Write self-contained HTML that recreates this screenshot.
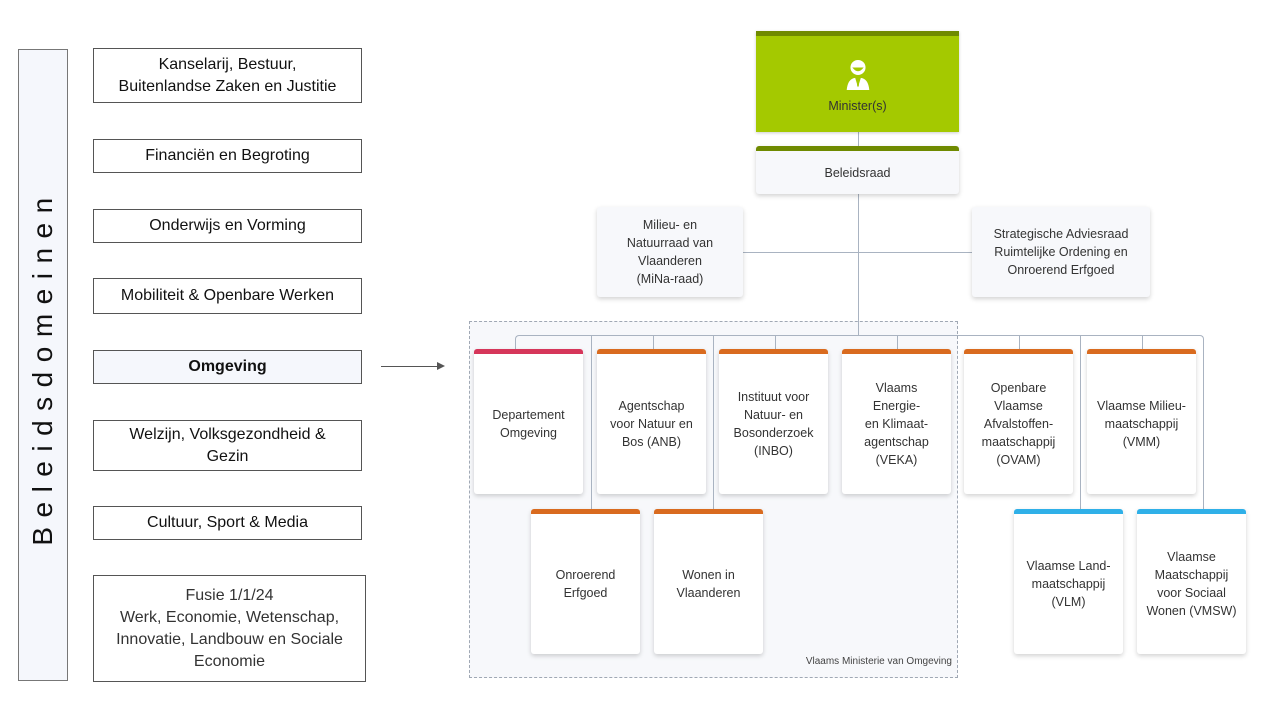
<!DOCTYPE html>
<html><head><meta charset="utf-8"><style>
*{margin:0;padding:0;box-sizing:border-box}
body{width:1280px;height:720px;background:#fff;position:relative;overflow:hidden;font-family:"Liberation Sans",sans-serif}
.a{position:absolute}
.lb{position:absolute;left:93px;width:269px;border:1.3px solid #555;background:#fff;display:flex;align-items:center;justify-content:center;text-align:center;font-size:16px;color:#111;line-height:22px}
.c{position:absolute;background:#fff;border-radius:3px;box-shadow:0 2px 5px rgba(0,0,0,.18);display:flex;align-items:center;justify-content:center;text-align:center;font-size:12.5px;color:#333;line-height:18px;border-top:5px solid #d96b1f;padding:0 4px}
.l{position:absolute;background:#a9b3c1}
</style></head><body>
<div class="a" style="left:18px;top:49px;width:50px;height:632px;background:#f5f7fc;border:1.3px solid #777"></div>
<div class="a" style="left:43px;top:367px;transform:translate(-50%,-50%) rotate(-90deg);font-size:28px;letter-spacing:9.5px;white-space:nowrap;color:#111">Beleidsdomeinen</div>

<div class="lb" style="top:48px;height:55px">Kanselarij, Bestuur,<br>Buitenlandse Zaken en Justitie</div>
<div class="lb" style="top:139px;height:34px">Financiën en Begroting</div>
<div class="lb" style="top:209px;height:34px">Onderwijs en Vorming</div>
<div class="lb" style="top:278px;height:36px">Mobiliteit &amp; Openbare Werken</div>
<div class="lb" style="top:350px;height:34px;background:#f5f7fc;font-weight:bold">Omgeving</div>
<div class="lb" style="top:420px;height:51px">Welzijn, Volksgezondheid &amp;<br>Gezin</div>
<div class="lb" style="top:506px;height:34px">Cultuur, Sport &amp; Media</div>
<div class="lb" style="top:575px;height:107px;width:273px;color:#333">Fusie 1/1/24<br>Werk, Economie, Wetenschap,<br>Innovatie, Landbouw en Sociale<br>Economie</div>

<div class="a" style="left:381px;top:366px;width:58px;height:1px;background:#555"></div>
<div class="a" style="left:437px;top:362px;width:0;height:0;border-left:8px solid #555;border-top:4px solid transparent;border-bottom:4px solid transparent"></div>

<!-- dashed container -->
<div class="a" style="left:469px;top:321px;width:489px;height:357px;border:1.3px dashed #a0a8b4;background:#f7f8fb"></div>
<div class="a" style="left:760px;top:656px;width:192px;text-align:right;font-size:10px;color:#444">Vlaams Ministerie van Omgeving</div>

<!-- lines -->
<div class="l" style="left:858px;top:131px;width:1px;height:16px"></div>
<div class="l" style="left:858px;top:193px;width:1px;height:142px"></div>
<div class="l" style="left:743px;top:252px;width:230px;height:1px"></div>
<div class="a" style="left:515px;top:335px;width:10px;height:15px;border-top:1px solid #a9b3c1;border-left:1px solid #a9b3c1;border-radius:4px 0 0 0"></div>
<div class="l" style="left:524px;top:335px;width:672px;height:1px"></div>
<div class="a" style="left:1194px;top:335px;width:10px;height:175px;border-top:1px solid #a9b3c1;border-right:1px solid #a9b3c1;border-radius:0 4px 0 0"></div>
<div class="l" style="left:653px;top:335px;width:1px;height:14px"></div>
<div class="l" style="left:775px;top:335px;width:1px;height:14px"></div>
<div class="l" style="left:897px;top:335px;width:1px;height:14px"></div>
<div class="l" style="left:1019px;top:335px;width:1px;height:14px"></div>
<div class="l" style="left:1142px;top:335px;width:1px;height:14px"></div>
<div class="l" style="left:591px;top:335px;width:1px;height:175px"></div>
<div class="l" style="left:713px;top:335px;width:1px;height:175px"></div>
<div class="l" style="left:1080px;top:335px;width:1px;height:175px"></div>

<!-- minister -->
<div class="a" style="left:756px;top:31px;width:203px;height:101px;background:#a4c900;border-top:5px solid #6f8a00;box-shadow:0 1px 3px rgba(0,0,0,.2)"></div>
<svg class="a" style="left:843px;top:59px" width="30" height="32" viewBox="0 0 28 34"><circle cx="14" cy="9" r="8" fill="#fff"/><path d="M8 9 Q14 17 20 9 Z" fill="#a4c900"/><path d="M2 33 Q3 21 11 20 L14 30 L17 20 Q25 21 26 33 Z" fill="#fff"/><path d="M13.3 21 L14.7 21 L15 28 L14 30 L13 28Z" fill="#a4c900"/></svg>
<div class="a" style="left:756px;top:99px;width:203px;text-align:center;font-size:12.5px;color:#333">Minister(s)</div>
<div class="c" style="left:756px;top:146px;width:203px;height:48px;border-top-color:#6f8a00;background:#f7f8fb">Beleidsraad</div>

<div class="c" style="left:597px;top:207px;width:146px;height:90px;border-top:none;background:#f7f8fb">Milieu- en<br>Natuurraad van<br>Vlaanderen<br>(MiNa-raad)</div>
<div class="c" style="left:972px;top:207px;width:178px;height:90px;border-top:none;background:#f7f8fb">Strategische Adviesraad<br>Ruimtelijke Ordening en<br>Onroerend Erfgoed</div>

<div class="c" style="left:474px;top:349px;width:109px;height:145px;border-top-color:#d6365a">Departement<br>Omgeving</div>
<div class="c" style="left:597px;top:349px;width:109px;height:145px">Agentschap<br>voor Natuur en<br>Bos (ANB)</div>
<div class="c" style="left:719px;top:349px;width:109px;height:145px">Instituut voor<br>Natuur- en<br>Bosonderzoek<br>(INBO)</div>
<div class="c" style="left:842px;top:349px;width:109px;height:145px">Vlaams<br>Energie-<br>en Klimaat-<br>agentschap<br>(VEKA)</div>
<div class="c" style="left:964px;top:349px;width:109px;height:145px">Openbare<br>Vlaamse<br>Afvalstoffen-<br>maatschappij<br>(OVAM)</div>
<div class="c" style="left:1087px;top:349px;width:109px;height:145px">Vlaamse Milieu-<br>maatschappij<br>(VMM)</div>

<div class="c" style="left:531px;top:509px;width:109px;height:145px">Onroerend<br>Erfgoed</div>
<div class="c" style="left:654px;top:509px;width:109px;height:145px">Wonen in<br>Vlaanderen</div>
<div class="c" style="left:1014px;top:509px;width:109px;height:145px;border-top-color:#2fb0e8">Vlaamse Land-<br>maatschappij<br>(VLM)</div>
<div class="c" style="left:1137px;top:509px;width:109px;height:145px;border-top-color:#2fb0e8">Vlaamse<br>Maatschappij<br>voor Sociaal<br>Wonen (VMSW)</div>
</body></html>
